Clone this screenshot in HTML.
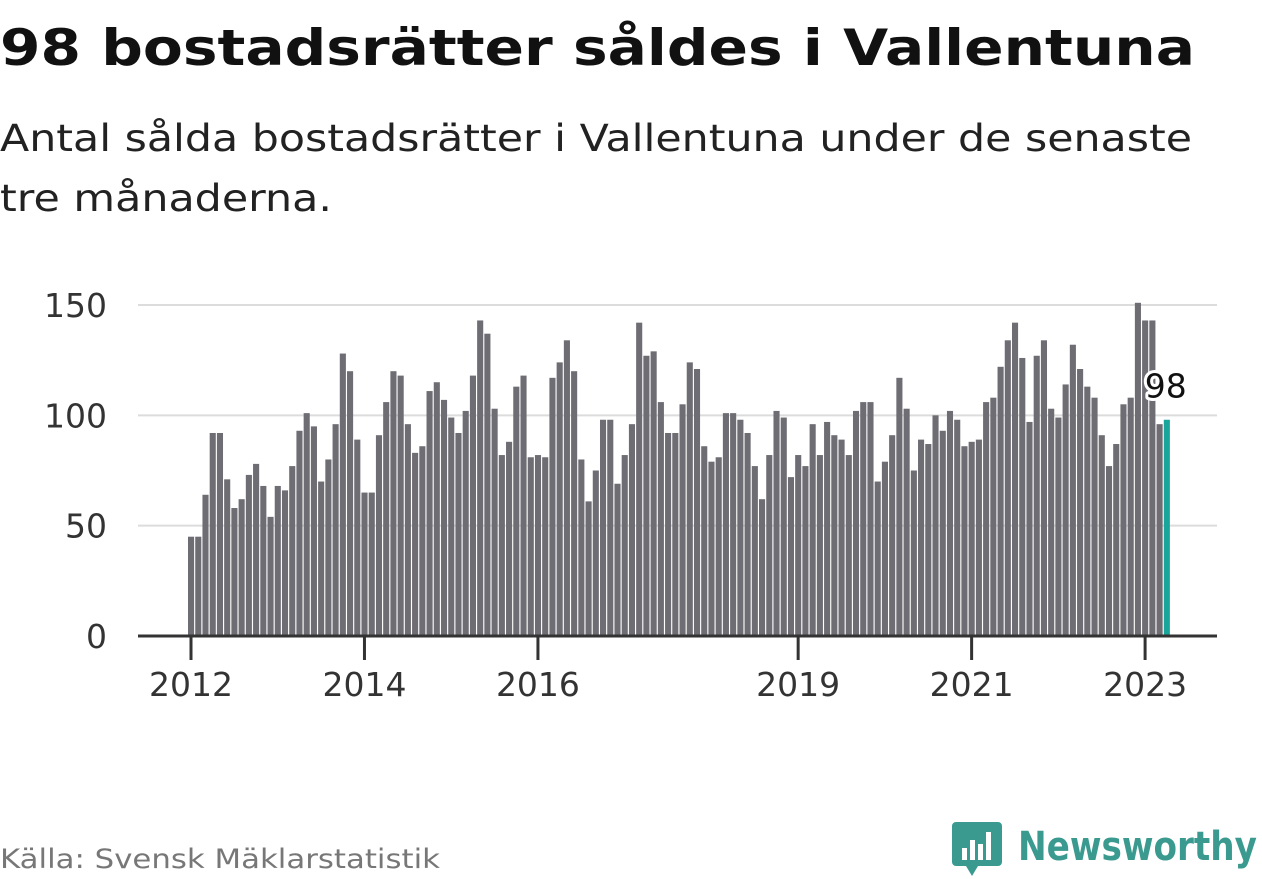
<!DOCTYPE html>
<html><head><meta charset="utf-8"><style>
body{margin:0;background:#fff;}
svg{display:block;font-family:"DejaVu Sans","Liberation Sans",sans-serif;}
</style></head><body>
<svg id="chart" width="1262" height="879" viewBox="0 0 1262 879">
<text x="0" y="65" font-size="50" font-weight="bold" fill="#111" textLength="1195" lengthAdjust="spacingAndGlyphs">98 bostadsrätter såldes i Vallentuna</text>
<text x="0" y="151" font-size="37" fill="#222" textLength="1192" lengthAdjust="spacingAndGlyphs">Antal sålda bostadsrätter i Vallentuna under de senaste</text>
<text x="0" y="211" font-size="37" fill="#222" textLength="332" lengthAdjust="spacingAndGlyphs">tre månaderna.</text>
<g id="grid"></g>
<g id="bars"></g>
<g id="axis"></g>
<text x="0" y="868" font-size="27" fill="#777" textLength="440" lengthAdjust="spacingAndGlyphs">Källa: Svensk Mäklarstatistik</text>
<g>
<path d="M956 822 h42 a4 4 0 0 1 4 4 v36 a4 4 0 0 1 -4 4 h-20 l-6 10 l-6 -10 h-10 a4 4 0 0 1 -4 -4 v-36 a4 4 0 0 1 4 -4z" fill="#3a9a8f"/>
<rect x="962" y="848" width="5" height="12" fill="#fff"/><rect x="970" y="840" width="5" height="20" fill="#fff"/><rect x="978" y="844" width="5" height="16" fill="#fff"/><rect x="986" y="832" width="5" height="28" fill="#fff"/>
<text x="1018" y="860" font-size="40" font-weight="bold" fill="#3a9a8f" textLength="239" lengthAdjust="spacingAndGlyphs">Newsworthy</text>
</g>
</svg>
<script>
const values = [45,45,64,92,92,71,58,62,73,78,68,54,
68,66,77,93,101,95,70,80,96,128,120,89,
65,65,91,106,120,118,96,83,86,111,115,107,
99,92,102,118,143,137,103,82,88,113,118,81,
82,81,117,124,134,120,80,61,75,98,98,69,
82,96,142,127,129,106,92,92,105,124,121,86,
79,81,101,101,98,92,77,62,82,102,99,72,
82,77,96,82,97,91,89,82,102,106,106,70,
79,91,117,103,75,89,87,100,93,102,98,86,
88,89,106,108,122,134,142,126,97,127,134,103,
99,114,132,121,113,108,91,77,87,105,108,151,
143,143,96,98];
const yTicks = [0,50,100,150];
const xTickYears = [2012,2014,2016,2019,2021,2023];
const startYear = 2012;

const NS="http://www.w3.org/2000/svg";
const y = v => 636 - v*(331/150);
const x = i => 191 + i*7.228;
function mk(tag, attrs, parent){const e=document.createElementNS(NS,tag);for(const k in attrs)e.setAttribute(k,attrs[k]);parent.appendChild(e);return e;}
const grid=document.getElementById('grid'), bars=document.getElementById('bars'), axis=document.getElementById('axis');
yTicks.forEach(t=>{
  if(t>0){const l=mk('line',{x1:138,x2:1217,y1:y(t),y2:y(t),stroke:'#dcdcdc','stroke-width':2},grid);
  
  }
  const tx=mk('text',{x:107,y:y(t)+12,'text-anchor':'end','font-size':33,fill:'#333'},grid);
  tx.textContent=t;
  
  
});
values.forEach((v,i)=>{
  const last=i===values.length-1;
  const r=mk('rect',{x:x(i)-3,y:y(v),width:6.1,height:636-y(v),fill:last?'#1aa59a':'#6e6d73'},bars);
  
  
});
const li=values.length-1;
const lbl=mk('text',{x:x(li)-22,y:y(values[li])-22,'font-size':33,fill:'#111',stroke:'#fff','stroke-width':6,'paint-order':'stroke','stroke-linejoin':'round'},bars);
lbl.textContent=values[li];


const al=mk('line',{x1:138,x2:1217,y1:636,y2:636,stroke:'#333','stroke-width':3},axis);


xTickYears.forEach(yr=>{
  const xx=x((yr-startYear)*12);
  const tk=mk('line',{x1:xx,x2:xx,y1:636,y2:660,stroke:'#333','stroke-width':3},axis);
  
  
  const t=mk('text',{x:xx,y:696,'text-anchor':'middle','font-size':33,fill:'#333'},axis);
  t.textContent=yr;
  
  
});
</script>
</body></html>
